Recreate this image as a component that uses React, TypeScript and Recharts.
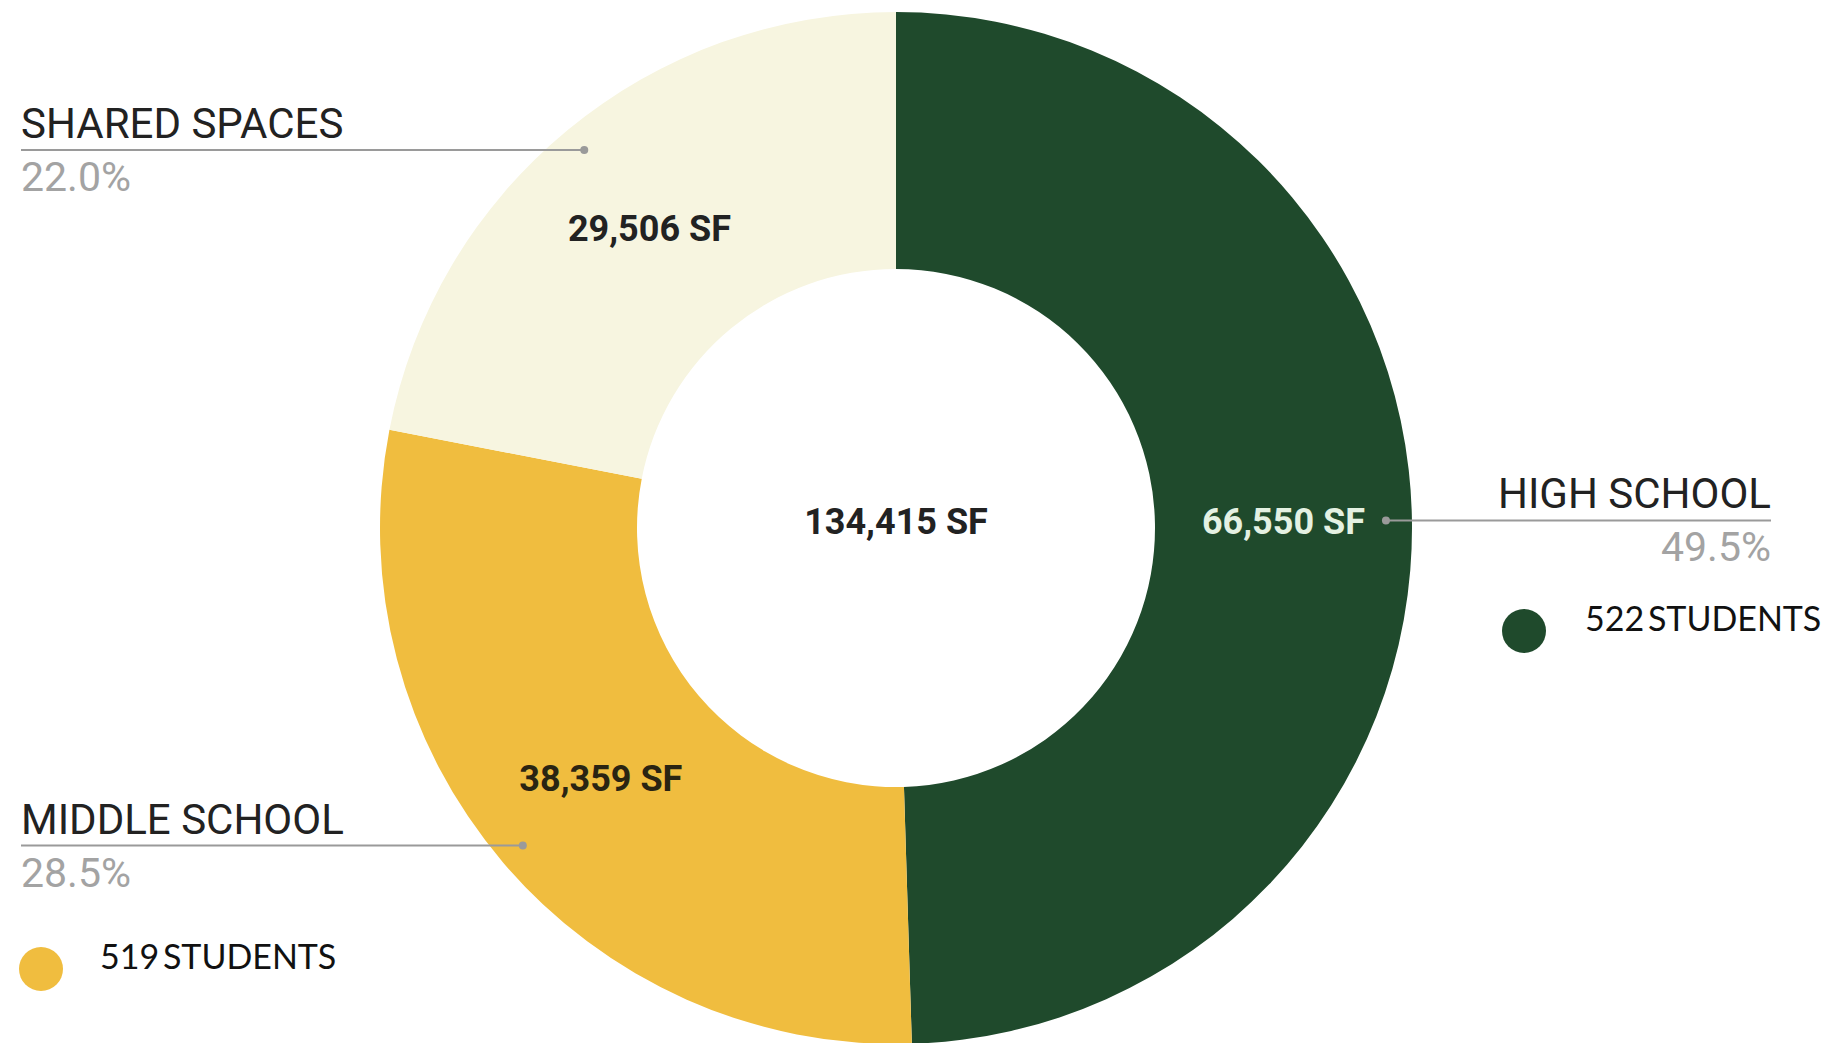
import { Pie, PieChart, Cell } from "recharts";

const categories = ["HIGH SCHOOL", "MIDDLE SCHOOL", "SHARED SPACES"];
const areaSf = [66550, 38359, 29506];
const studentCategories = ["HIGH SCHOOL", "MIDDLE SCHOOL"];
const studentCounts = [522, 519];

const sliceColors = ["#1f4a2c", "#f0bd3f", "#f7f5e0"];
const sliceTextColors = ["#e4f1e2", "#2a2412", "#222222"];

const WIDTH = 1838;
const HEIGHT = 1043;
const LEFT_EDGE = 21;
const RIGHT_EDGE = 1771;

const data = categories.map((name, i) => ({ name, value: areaSf[i] }));
const total = areaSf.reduce((a, b) => a + b, 0);

const fmt = (n: number) => n.toLocaleString("en-US");

// legend dots, positioned by category
const legendLayout: Record<string, { x: number; y: number; textX: number }> = {
  "HIGH SCHOOL": { x: 1524, y: 631, textX: 1585 },
  "MIDDLE SCHOOL": { x: 41, y: 969, textX: 100 },
};

function renderSliceLabel(props: any) {
  const { cx, cy, midAngle, innerRadius, outerRadius, index, value, percent } =
    props;
  const rad = Math.PI / 180;
  const cos = Math.cos(-midAngle * rad);
  const sin = Math.sin(-midAngle * rad);
  const rMid = (innerRadius + outerRadius) / 2;
  const tx = cx + rMid * cos;
  const ty = cy + rMid * sin;
  const rDot = outerRadius - 26;
  const dx = cx + rDot * cos;
  const dy = cy + rDot * sin;
  const right = cos > 0;
  const endX = right ? RIGHT_EDGE : LEFT_EDGE;
  const anchor = right ? "end" : "start";

  return (
    <g>
      <text
        x={tx}
        y={ty}
        textAnchor="middle"
        dominantBaseline="central"
        fontFamily="Roboto"
        fontWeight={700}
        fontSize={36}
        fill={sliceTextColors[index]}
      >
        {fmt(value)} SF
      </text>
      <line x1={dx} y1={dy} x2={endX} y2={dy} stroke="#9a9a9a" strokeWidth={2} />
      <circle cx={dx} cy={dy} r={4} fill="#9a9a9a" />
      <text
        x={endX}
        y={dy - 12}
        textAnchor={anchor}
        fontFamily="Roboto"
        fontSize={42}
        fill="#222222"
      >
        {categories[index]}
      </text>
      <text
        x={endX}
        y={dy + 41}
        textAnchor={anchor}
        fontFamily="Roboto"
        fontSize={41}
        fill="#a3a3a3"
      >
        {(percent * 100).toFixed(1)}%
      </text>
      {index === 0 && (
        <text
          x={cx}
          y={cy - 6}
          textAnchor="middle"
          dominantBaseline="central"
          fontFamily="Roboto"
          fontWeight={700}
          fontSize={36}
          fill="#222222"
        >
          {fmt(total)} SF
        </text>
      )}
    </g>
  );
}

export default function App() {
  return (
    <div
      style={{
        position: "absolute",
        left: 0,
        top: 0,
        width: WIDTH,
        height: HEIGHT,
        overflow: "hidden",
        background: "#ffffff",
      }}
    >
      <PieChart width={WIDTH} height={HEIGHT}>
        <Pie
          data={data}
          dataKey="value"
          nameKey="name"
          cx={891}
          cy={523}
          innerRadius={259}
          outerRadius={516}
          startAngle={90}
          endAngle={-270}
          stroke="none"
          label={renderSliceLabel}
          labelLine={false}
          isAnimationActive={false}
        >
          {data.map((d, i) => (
            <Cell key={d.name} fill={sliceColors[i]} />
          ))}
        </Pie>
      </PieChart>
      <svg
        width={WIDTH}
        height={HEIGHT}
        style={{ position: "absolute", left: 0, top: 0, pointerEvents: "none" }}
      >
        {studentCategories.map((cat, i) => {
          const pos = legendLayout[cat];
          return (
            <g key={cat}>
              <circle
                cx={pos.x}
                cy={pos.y}
                r={22}
                fill={sliceColors[categories.indexOf(cat)]}
              />
              <text
                x={pos.textX}
                y={pos.y}
                fontFamily="Lato"
                fontSize={34}
                wordSpacing={-5}
                fill="#111111"
              >
                {studentCounts[i]} STUDENTS
              </text>
            </g>
          );
        })}
      </svg>
    </div>
  );
}
